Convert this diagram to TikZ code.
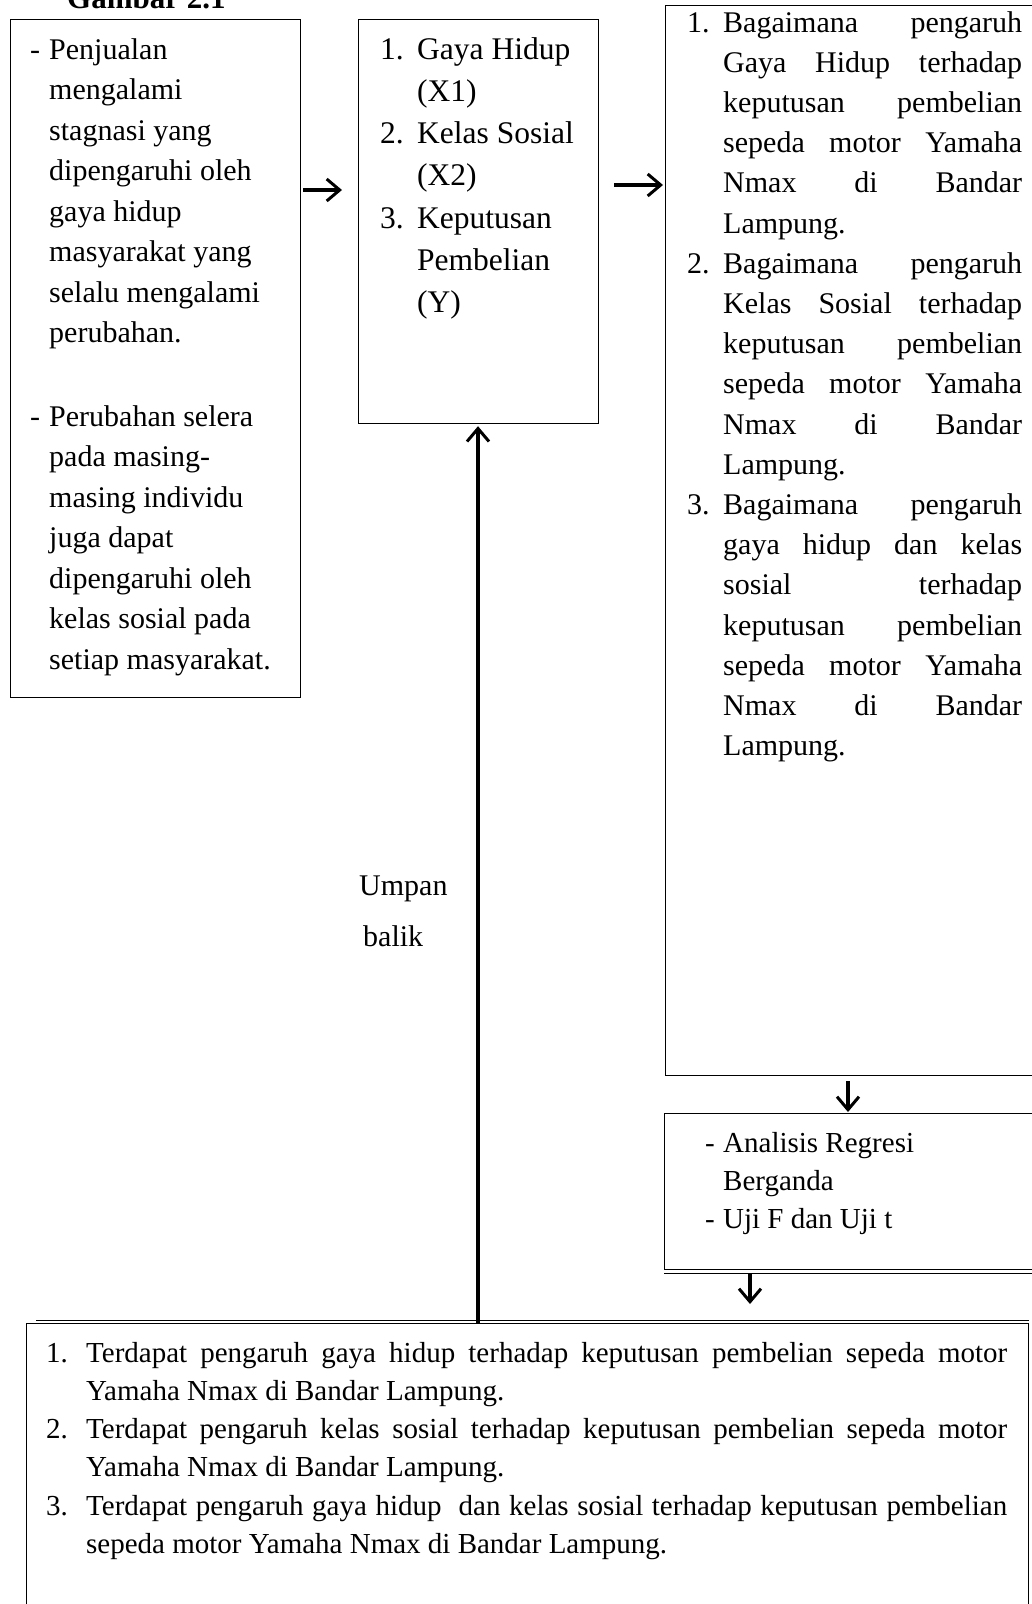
\documentclass[tikz,border=0pt]{standalone}
\usepackage{fontspec}
\setmainfont{Liberation Serif}
\usetikzlibrary{arrows.meta}
\newlength\LW
\newlength\JW
\newcommand\Blk[5]{\vtop{\fontsize{#1}{#2}\selectfont\setlength\LW{#3}\setlength\JW{#4}\lineskiplimit=-100pt\lineskip=0pt #5}}
\newcommand\J[2]{\hbox{\makebox[\LW][l]{#1}\makebox[\JW][s]{#2}}}
\newcommand\F[2]{\hbox{\makebox[\LW][l]{#1}#2}}
\begin{document}
\begin{tikzpicture}[x=1pt,y=-1pt,
  box/.style={draw, line width=1.2pt, inner sep=0pt, anchor=north west},
  txt/.style={inner sep=0pt, anchor=base west},
  arr/.style={line width=3.2pt, -{Straight Barb[length=13pt,width=22pt,line width=3pt]}}]
\useasboundingbox (0,0) rectangle (1032,1604);
\clip (0,0) rectangle (1032,1604);
% title
\node[txt] (title) at (67,8) {\fontsize{31pt}{31pt}\selectfont\bfseries Gambar 2.1};
% boxes
\node[box, minimum width=290pt, minimum height=678pt] (L) at (10,19) {};
\node[box, minimum width=240pt, minimum height=404pt] (M) at (358,19) {};
\node[box, minimum width=375pt, minimum height=1070pt] (R) at (665,5) {};
\node[box, minimum width=375pt, minimum height=156pt] (A) at (664,1113) {};
\node[box, minimum width=1002pt, minimum height=300pt] (B) at (26,1323) {};
\draw[line width=1.2pt] (A.south west) ++(0,3) coordinate (a2l) -- (a2l -| A.east);
\draw[line width=1.2pt] (B.north west) ++(10,-2.5) coordinate (b2l) -- (b2l -| B.east);
% texts
\node[txt] (Ltext) at (30,59) {\Blk{30pt}{40.5pt}{19pt}{0pt}{%
\F{-}{Penjualan}
\F{}{mengalami}
\F{}{stagnasi yang}
\F{}{dipengaruhi oleh}
\F{}{gaya hidup}
\F{}{masyarakat yang}
\F{}{selalu mengalami}
\F{}{perubahan.}
\vskip43pt
\F{-}{Perubahan selera}
\F{}{pada masing-}
\F{}{masing individu}
\F{}{juga dapat}
\F{}{dipengaruhi oleh}
\F{}{kelas sosial pada}
\F{}{setiap masyarakat.}}};
\node[txt] (Mtext) at (380,59) {\Blk{31.5pt}{42.3pt}{37pt}{0pt}{%
\F{1.}{Gaya Hidup}
\F{}{(X1)}
\F{2.}{Kelas Sosial}
\F{}{(X2)}
\F{3.}{Keputusan}
\F{}{Pembelian}
\F{}{(Y)}}};
\node[txt] (Rtext) at (687,32) {\Blk{30pt}{40.2pt}{36pt}{299pt}{%
\J{1.}{Bagaimana pengaruh}
\J{}{Gaya Hidup terhadap}
\J{}{keputusan pembelian}
\J{}{sepeda motor Yamaha}
\J{}{Nmax di Bandar}
\F{}{Lampung.}
\J{2.}{Bagaimana pengaruh}
\J{}{Kelas Sosial terhadap}
\J{}{keputusan pembelian}
\J{}{sepeda motor Yamaha}
\J{}{Nmax di Bandar}
\F{}{Lampung.}
\J{3.}{Bagaimana pengaruh}
\J{}{gaya hidup dan kelas}
\J{}{sosial terhadap}
\J{}{keputusan pembelian}
\J{}{sepeda motor Yamaha}
\J{}{Nmax di Bandar}
\F{}{Lampung.}}};
\node[txt] (Atext) at (705,1152) {\Blk{29pt}{38pt}{18pt}{0pt}{%
\F{-}{Analisis Regresi}
\F{}{Berganda}
\F{-}{Uji F dan Uji t}}};
\node[txt] (Btext) at (46,1362) {\Blk{29pt}{38.3pt}{40pt}{921pt}{%
\J{1.}{Terdapat pengaruh gaya hidup terhadap keputusan pembelian sepeda motor}
\F{}{Yamaha Nmax di Bandar Lampung.}
\J{2.}{Terdapat pengaruh kelas sosial terhadap keputusan pembelian sepeda motor}
\F{}{Yamaha Nmax di Bandar Lampung.}
\J{3.}{Terdapat pengaruh gaya hidup~ dan kelas sosial terhadap keputusan pembelian}
\F{}{sepeda motor Yamaha Nmax di Bandar Lampung.}}};
\node[txt] (umpan) at (359,895) {\Blk{30pt}{51pt}{4pt}{0pt}{%
\F{}{\hspace{-4pt}Umpan}
\F{}{balik}}};
% connectors
\coordinate (y1) at (0,190);
\coordinate (y2) at (0,185);
\coordinate (x3) at (848,0);
\coordinate (x4) at (750,0);
\coordinate (x5) at (478,0);
\draw[arr, shorten <=2pt, shorten >=16pt] (L.east |- y1) -- (M.west |- y1);
\draw[arr, shorten <=15pt, shorten >=2pt] (M.east |- y2) -- (R.west |- y2);
\draw[arr, shorten <=5pt, shorten >=1pt] (R.south -| x3) -- (A.north -| x3);
\draw[arr, shorten <=3pt, shorten >=19pt] (A.south -| x4) -- (B.north -| x4);
\draw[arr, shorten >=2pt] (B.north -| x5) -- (M.south -| x5);
\end{tikzpicture}
\end{document}
